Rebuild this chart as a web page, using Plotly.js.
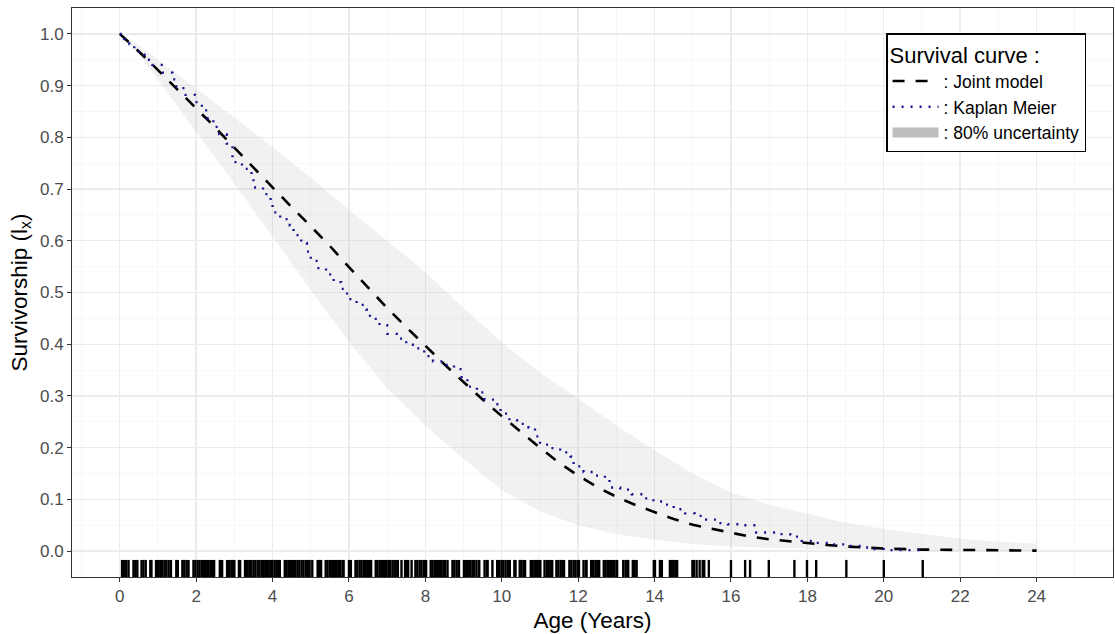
<!DOCTYPE html>
<html><head><meta charset="utf-8">
<script src="https://cdn.plot.ly/plotly-3.0.1.min.js"></script>
<style>html,body{margin:0;padding:0;background:#fff}#chart{width:1115px;height:634px}</style>
</head><body><div id="chart"></div>
<script>
// Joint model survival curve
const jmAge = [0,0.5,1,1.5,2,2.5,3,3.5,4,4.5,5,5.5,6,6.5,7,7.5,8,8.5,9,9.5,10,10.5,11,11.5,12,12.5,13,13.5,14,14.5,15,15.5,16,16.5,17,17.5,18,18.5,19,19.5,20,21,22,23,24];
const jmSurv = [1.0,0.966,0.93,0.893,0.857,0.819,0.78,0.741,0.703,0.665,0.628,0.59,0.549,0.509,0.47,0.433,0.396,0.361,0.327,0.293,0.261,0.23,0.2,0.171,0.146,0.124,0.105,0.089,0.075,0.062,0.051,0.043,0.035,0.028,0.023,0.019,0.015,0.012,0.009,0.0068,0.005,0.003,0.002,0.0015,0.001];

// 80% uncertainty band
const bandAge = [0,0.5,1,1.5,2,3,4,5,6,7,8,9,10,11,12,13,14,15,16,17,18,19,20,21,22,23,24];
const bandLower = [1.0,0.96,0.912,0.862,0.81,0.71,0.608,0.505,0.405,0.315,0.243,0.178,0.118,0.077,0.05,0.033,0.022,0.014,0.009,0.006,0.004,0.003,0.002,0.001,0.0005,0.0003,0.0002];
const bandUpper = [1.0,0.978,0.95,0.922,0.894,0.838,0.782,0.722,0.66,0.6,0.539,0.47,0.404,0.345,0.295,0.243,0.195,0.15,0.113,0.09,0.072,0.055,0.043,0.033,0.024,0.018,0.015];

// Kaplan Meier estimate (step function)
const kmAge = [0,0.12,0.25,0.38,0.5,0.65,0.85,1.1,1.38,1.48,1.72,1.97,2.15,2.3,2.45,2.6,2.8,2.95,3.2,3.45,3.5,3.75,3.95,4.0,4.2,4.45,4.55,4.75,4.9,5.0,5.2,5.4,5.6,5.8,5.95,6.2,6.45,6.55,6.8,7.0,7.25,7.5,7.75,7.97,8.2,8.5,8.75,8.95,9.1,9.35,9.55,9.8,9.97,10.2,10.4,10.7,10.87,11.0,11.28,11.53,11.8,11.88,12.14,12.4,12.7,12.82,13.1,13.4,13.7,13.97,14.2,14.5,14.8,15.05,15.35,15.63,15.92,16.2,16.66,17.25,17.55,17.85,18.2,18.6,19.0,19.4,19.7,20.0,21.0];
const kmSurv = [1.0,0.99,0.98,0.97,0.96,0.95,0.94,0.925,0.912,0.895,0.882,0.868,0.852,0.836,0.82,0.806,0.788,0.752,0.739,0.725,0.703,0.69,0.676,0.655,0.642,0.63,0.611,0.596,0.579,0.561,0.547,0.535,0.52,0.507,0.487,0.476,0.467,0.449,0.437,0.42,0.411,0.399,0.392,0.377,0.367,0.36,0.352,0.335,0.318,0.307,0.293,0.284,0.266,0.253,0.246,0.239,0.222,0.206,0.199,0.191,0.183,0.164,0.153,0.146,0.141,0.123,0.119,0.11,0.102,0.096,0.09,0.081,0.073,0.068,0.061,0.054,0.052,0.05,0.036,0.033,0.028,0.02,0.016,0.013,0.01,0.007,0.004,0.002,0.0];

// Observed ages at death (rug)
const rugAge = [0.06,0.11,0.17,0.23,0.36,0.41,0.46,0.57,0.62,0.68,0.80,0.83,0.95,1.00,1.06,1.11,1.17,1.22,1.28,1.34,1.48,1.52,1.64,1.69,1.75,1.80,1.93,1.98,2.04,2.09,2.15,2.20,2.26,2.31,2.37,2.42,2.47,2.62,2.68,2.81,2.86,2.92,2.97,3.00,3.12,3.15,3.28,3.33,3.39,3.44,3.50,3.55,3.61,3.66,3.72,3.77,3.83,3.88,3.94,3.99,4.05,4.10,4.15,4.19,4.32,4.37,4.43,4.48,4.54,4.59,4.65,4.70,4.76,4.81,4.87,4.92,4.97,5.04,5.18,5.22,5.27,5.39,5.44,5.50,5.55,5.61,5.66,5.72,5.77,5.83,5.86,6.00,6.05,6.17,6.22,6.28,6.33,6.39,6.44,6.50,6.55,6.58,6.70,6.75,6.81,6.86,6.92,6.97,7.03,7.08,7.14,7.19,7.24,7.28,7.375,7.47,7.52,7.55,7.64,7.74,7.79,7.85,7.90,7.96,8.02,8.14,8.19,8.25,8.30,8.36,8.41,8.47,8.52,8.58,8.71,8.76,8.82,8.88,9.01,9.06,9.12,9.17,9.23,9.28,9.34,9.41,9.55,9.61,9.63,9.755,9.88,9.93,9.99,10.04,10.10,10.16,10.21,10.33,10.36,10.47,10.52,10.58,10.61,10.76,10.81,10.87,10.92,10.98,11.01,11.12,11.18,11.23,11.29,11.32,11.43,11.48,11.54,11.59,11.63,11.77,11.82,11.88,11.93,11.99,12.02,12.14,12.20,12.22,12.34,12.39,12.45,12.50,12.55,12.67,12.72,12.78,12.83,12.89,12.94,13.00,13.02,13.18,13.24,13.29,13.31,13.43,13.48,13.53,13.98,14.01,14.14,14.19,14.40,14.45,14.50,14.55,14.59,14.99,15.03,15.10,15.18,15.26,15.30,15.42,16.00,16.37,16.50,16.99,17.66,17.99,18.23,19.02,20.00,21.02];

const xTicks = [0,2,4,6,8,10,12,14,16,18,20,22,24];
const yTicks = [0,0.1,0.2,0.3,0.4,0.5,0.6,0.7,0.8,0.9,1.0];

const yMin = -0.05, yMax = 1.05;
const rugTop = yMin + 0.03 * (yMax - yMin);
const rugX = [], rugY = [];
rugAge.forEach(t => { rugX.push(t, t, null); rugY.push(yMin, rugTop, null); });

const FONT = 'Liberation Sans, Arial, sans-serif';

const traces = [
  {x: bandAge, y: bandLower, mode: 'lines', line: {width: 0, color: 'rgba(0,0,0,0)'}, showlegend: false, hoverinfo: 'skip'},
  {x: bandAge, y: bandUpper, mode: 'lines', fill: 'tonexty', fillcolor: 'rgba(190,190,190,0.22)', line: {width: 0, color: 'rgba(0,0,0,0)'}, showlegend: false, hoverinfo: 'skip'},
  {x: jmAge, y: jmSurv, mode: 'lines', name: ': Joint model', legendgroup: 'a', line: {color: '#000000', width: 2.6, dash: '12px,11px'}},
  {x: kmAge, y: kmSurv, mode: 'lines', name: ': Kaplan Meier', legendgroup: 'b', line: {color: '#12128f', width: 2.3, shape: 'hv', dash: '2px,7px'}},
  {x: [null], y: [null], mode: 'lines', name: ': 80% uncertainty', legendgroup: 'c', line: {color: '#BEBEBE', width: 14}},
  {x: rugX, y: rugY, mode: 'lines', line: {color: '#000000', width: 2.4}, showlegend: false, hoverinfo: 'skip'}
];

const axisCommon = {
  showline: true, mirror: true, linecolor: '#333333', linewidth: 1,
  ticks: 'outside', ticklen: 4, tickwidth: 1, tickcolor: '#333333',
  tickfont: {family: FONT, size: 17, color: '#4D4D4D'},
  showgrid: true, gridcolor: '#EBEBEB', gridwidth: 1.4, zeroline: false
};

const layout = {
  width: 1115, height: 634,
  margin: {l: 72, r: 2, t: 8, b: 57},
  paper_bgcolor: '#ffffff', plot_bgcolor: '#ffffff',
  font: {family: FONT, color: '#000'},
  xaxis: Object.assign({}, axisCommon, {
    range: [-1.25, 26.0], tickmode: 'array', tickvals: xTicks, ticktext: xTicks.map(String),
    minor: {dtick: 1, tick0: 0, showgrid: true, gridcolor: '#F5F5F5', gridwidth: 0.8, ticks: ''},
    title: {text: 'Age (Years)', font: {family: FONT, size: 22.5, color: '#000'}, standoff: 6}
  }),
  yaxis: Object.assign({}, axisCommon, {
    range: [yMin, yMax], tickmode: 'array', tickvals: yTicks, ticktext: yTicks.map(v => v.toFixed(1)),
    minor: {dtick: 0.05, tick0: 0, showgrid: true, gridcolor: '#F5F5F5', gridwidth: 0.8, ticks: ''},
    title: {text: 'Survivorship (l<sub>x</sub>)', font: {family: FONT, size: 22.5, color: '#000'}, standoff: 6}
  }),
  legend: {
    x: 0.782, y: 0.956, xanchor: 'left', yanchor: 'top',
    bgcolor: '#ffffff', bordercolor: '#000000', borderwidth: 1.5,
    font: {family: FONT, size: 17.5, color: '#000'},
    title: {text: 'Survival curve :', font: {family: FONT, size: 22, color: '#000'}},
    itemwidth: 46, tracegroupgap: 0, traceorder: 'normal'
  },
  showlegend: true
};

Plotly.newPlot('chart', traces, layout, {displayModeBar: false, staticPlot: true});
</script>
</body></html>
